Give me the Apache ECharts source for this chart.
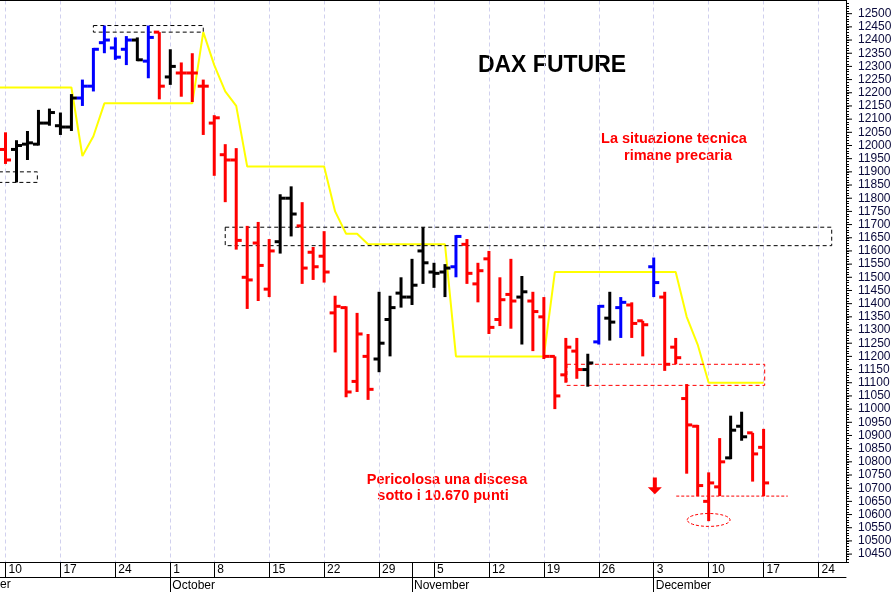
<!DOCTYPE html>
<html><head><meta charset="utf-8">
<script src="https://cdn.jsdelivr.net/npm/echarts@6/dist/echarts.min.js"></script>
<style>html,body{margin:0;padding:0;background:#fff}#chart{width:896px;height:592px}</style>
</head><body><div id="chart"></div>
<script>
// ---- data ----
const categories = [
 '2018-09-03','2018-09-04','2018-09-05','2018-09-06','2018-09-07','2018-09-10','2018-09-11','2018-09-12','2018-09-13','2018-09-14',
 '2018-09-17','2018-09-18','2018-09-19','2018-09-20','2018-09-21','2018-09-24','2018-09-25','2018-09-26','2018-09-27','2018-09-28',
 '2018-10-01','2018-10-02','2018-10-04','2018-10-05','2018-10-08','2018-10-09','2018-10-10','2018-10-11','2018-10-12','2018-10-15',
 '2018-10-16','2018-10-17','2018-10-18','2018-10-19','2018-10-22','2018-10-23','2018-10-24','2018-10-25','2018-10-26','2018-10-29',
 '2018-10-30','2018-10-31','2018-11-01','2018-11-02','2018-11-05','2018-11-06','2018-11-07','2018-11-08','2018-11-09','2018-11-12',
 '2018-11-13','2018-11-14','2018-11-15','2018-11-16','2018-11-19','2018-11-20','2018-11-21','2018-11-22','2018-11-23','2018-11-26',
 '2018-11-27','2018-11-28','2018-11-29','2018-11-30','2018-12-03','2018-12-04','2018-12-05','2018-12-06','2018-12-07','2018-12-10',
 '2018-12-11','2018-12-12','2018-12-13','2018-12-14','2018-12-17','2018-12-18','2018-12-19','2018-12-20','2018-12-21','2018-12-24',
 '2018-12-25','2018-12-26'
];
const firstShown = '2018-09-10';
const monthNames = ['January','February','March','April','May','June','July','August','September','October','November','December'];

const open = [null,null,null,null,null,
 11985,11985,12005,12005,12085,12075,12070,12180,12225,12390,
 12370,12365,12400,12320,12430,12260,12275,12275,12225,12085,
 11965,11945,11500,11630,11455,11635,11800,11695,11595,11580,
 11365,11385,11105,11200,11190,11340,11440,11425,11600,11520,
 11520,11540,11625,11475,11570,11340,11435,11425,11410,11350,
 11200,11130,11220,11150,11255,11345,11385,11395,11335,11540,
 11425,11235,11040,10935,10650,10705,10815,10935,10910,10855,
 null,null,null,null,null,null,null];
const high = [null,null,null,null,null,
 12050,12020,12055,12135,12140,12125,12195,12250,12370,12455,
 12410,12415,12410,12455,12430,12365,12315,12350,12250,12115,
 12005,11990,11695,11710,11645,11815,11845,11785,11615,11675,
 11430,11390,11365,11285,11445,11430,11500,11570,11690,11555,
 11550,11660,11645,11555,11600,11500,11570,11505,11445,11425,
 11200,11270,11270,11210,11395,11445,11425,11405,11335,11575,
 11445,11270,11095,10940,10760,10890,10975,10990,10910,10925,
 null,null,null,null,null,null,null];
const low = [null,null,null,null,null,
 11930,11860,11945,12000,12075,12040,12055,12150,12205,12350,
 12325,12305,12320,12255,12175,12230,12185,12165,12040,11885,
 11785,11605,11380,11410,11425,11590,11655,11475,11490,11480,
 11215,11045,11065,11035,11140,11200,11385,11395,11475,11460,
 11425,11500,11475,11405,11285,11315,11305,11245,11220,11190,
 11000,11100,11115,11085,11245,11260,11270,11270,11200,11425,
 11145,11170,10755,10670,10575,10670,10810,10880,10725,10670,
 null,null,null,null,null,null,null];
const close = [null,null,null,null,null,
 11945,12000,12010,12085,12125,12070,12180,12225,12365,12400,
 12335,12400,12325,12410,12225,12300,12275,12275,12225,12105,
 11945,11640,11490,11545,11600,11800,11740,11535,11540,11520,
 11390,11065,11285,11075,11250,11385,11425,11470,11555,11515,
 11535,11655,11515,11525,11310,11415,11410,11445,11370,11200,
 11050,11235,11150,11175,11390,11330,11405,11325,11320,11480,
 11170,11195,10940,10710,10720,10800,10920,10895,10830,10720,
 null,null,null,null,null,null,null];
// bar colour class: r = red, k = black, b = blue
const barClass = ['','','','','',
 'r','k','k','k','k','k','k','b','b','b',
 'b','b','k','b','r','k','r','r','r','r',
 'r','r','r','r','r','k','k','r','r','r',
 'r','r','r','r','k','k','k','k','k','k',
 'k','b','r','r','r','r','r','k','r','r',
 'r','r','r','k','b','k','b','r','r','b',
 'r','r','r','r','r','r','k','k','r','r',
 '','','','','','',''];
const trendLine = [12220,12220,12220,12220,12220,
 12220,12220,12220,12220,12220,12220,12220,11960,12035,12160,
 12160,12160,12160,12160,12160,12160,12160,12160,12430,12305,
 12205,12150,11920,11920,11920,11920,11920,11920,11920,11920,
 11750,11665,11665,11625,11625,11625,11625,11625,11625,11625,
 11625,11200,11200,11200,11200,11200,11200,11200,11200,11200,
 11520,11520,11520,11520,11520,11520,11520,11520,11520,11520,
 11520,11520,11350,11245,11100,11100,11100,11100,11100,11100,
 null,null,null,null,null,null,null];
const yTickLabels = [];
for (let v = 10450; v <= 12500; v += 50) yTickLabels.push(v);

// annotations in data units: [fromCategory, toCategory, lowValue, highValue, colour]
const boxes = [
 [4.4, 7.9, 11860, 11900, '#000000'],
 [13.0, 23.0, 12430, 12455, '#000000'],
 [25.0, 80.2, 11620, 11690, '#000000'],
 [56.1, 74.1, 11090, 11170, '#ff0000']
];
const supportLine = [66.05, 76.2, 10670];
const lowEllipse = [67.05, 70.95, 10555, 10604];
const downArrow = [64.1, 10677, 10741];

// ---- chart ----
const FONT = "'Liberation Sans', Arial, sans-serif";
const colorMap = {r:'#ff0000', k:'#000000', b:'#0000ff'};
const k0 = categories.indexOf(firstShown);
const kLast = categories.length - 1;
const isMonday = (d) => new Date(d + 'T00:00:00Z').getUTCDay() === 1;
const isMonthStart = (i) => i === 0 || categories[i].slice(5,7) !== categories[i-1].slice(5,7);

const ohlc = [];
categories.forEach((c, k) => { if (open[k] != null) ohlc.push([k, open[k], high[k], low[k], close[k]]); });

const chart = echarts.init(document.getElementById('chart'));
const xAt = (api, pos, v) => {  // fractional category position -> pixel
  const band = api.size([1, 0])[0];
  const p = api.coord([k0, v]);
  return [p[0] + (pos - k0) * band, p[1]];
};

chart.setOption({
 animation: false,
 backgroundColor: '#ffffff',
 grid: {left: 0, right: 50, top: 0.5, bottom: 30, show: false},
 xAxis: [{
   type: 'category', data: categories, boundaryGap: true, position: 'bottom', min: k0, max: kLast,
   axisLine: {show: true, lineStyle: {color: '#000', width: 1}},
   axisTick: {show: true, alignWithLabel: true, length: 15.5, lineStyle: {color:'#000'},
     interval: (i, v) => isMonday(v) || isMonthStart(i)},
   axisLabel: {interval: (i, v) => isMonday(v), formatter: (v) => String(parseInt(v.slice(8), 10)),
     align: 'left', padding: [0,0,0,3], margin: 2, color: '#000', fontSize: 12, fontFamily: FONT},
   splitLine: {show: true, alignWithLabel: true, interval: (i, v) => isMonday(v), lineStyle: {type:[4,3], color:'#d0d0ee', width:1}}
 }, {
   type: 'category', data: categories, boundaryGap: true, position: 'bottom', offset: 15.5, min: k0, max: kLast,
   axisLine: {show: true, lineStyle: {color: '#000', width: 1}},
   axisTick: {show: true, alignWithLabel: true, length: 16, lineStyle: {color:'#000'}, interval: (i) => isMonthStart(i)},
   axisLabel: {interval: (i) => isMonthStart(i), formatter: (v) => monthNames[parseInt(v.slice(5,7),10)-1],
     align: 'left', padding: [0,0,0,2], margin: 2, color: '#000', fontSize: 12, fontFamily: FONT},
   splitLine: {show: false}
 }, {
   type: 'category', data: categories, boundaryGap: true, position: 'top', min: k0, max: kLast,
   axisLine: {show: true, lineStyle: {color: '#000', width: 1}},
   axisTick: {show: false}, axisLabel: {show: false}, splitLine: {show: false}
 }],
 yAxis: {
   type: 'value', position: 'right', min: 10420, max: 12550, interval: 10,
   axisLine: {show: true, lineStyle: {color: '#000', width: 1}},
   axisTick: {show: true, length: 3, lineStyle: {color: '#000'}},
   axisLabel: {margin: 12, color: '#0a0a3c', fontSize: 12, fontFamily: FONT, showMaxLabel: false,
     formatter: (v) => { const r = Math.round(v); return (r % 50 === 0 && r < 12550) ? String(r) : ''; }},
   splitLine: {show: false}
 },
 series: [
  {type: 'line', data: trendLine, symbol: 'none', z: 2,
   lineStyle: {color: '#ffff00', width: 2}},
  {type: 'custom', z: 3, data: boxes.map((b) => [k0, b[2]]), silent: true,
   renderItem: (params, api) => {
     const b = boxes[params.dataIndex];
     const a = xAt(api, b[0], b[2]), c = xAt(api, b[1], b[3]);
     return {type: 'rect', shape: {x: a[0], y: c[1], width: c[0] - a[0], height: a[1] - c[1]},
       style: {fill: null, stroke: b[4], lineWidth: 1, lineDash: [4, 3]}};
   }},
  {type: 'custom', z: 4, data: ohlc, encode: {x: 0, y: [1,2,3,4]}, silent: true,
   renderItem: (params, api) => {
     const k = api.value(0);
     const col = colorMap[barClass[k]];
     const hi = api.coord([k, api.value(2)]), lo = api.coord([k, api.value(3)]);
     const op = api.coord([k, api.value(1)]), cl = api.coord([k, api.value(4)]);
     const st = {stroke: col, lineWidth: 3};
     return {type: 'group', children: [
       {type: 'line', shape: {x1: hi[0], y1: hi[1], x2: lo[0], y2: lo[1]}, style: st},
       {type: 'line', shape: {x1: op[0] - 5.5, y1: op[1], x2: op[0], y2: op[1]}, style: st},
       {type: 'line', shape: {x1: cl[0], y1: cl[1], x2: cl[0] + 5.5, y2: cl[1]}, style: st}
     ]};
   }},
  {type: 'custom', z: 5, data: [[k0, supportLine[2]]], silent: true,
   renderItem: (params, api) => {
     const s0 = xAt(api, supportLine[0], supportLine[2]), s1 = xAt(api, supportLine[1], supportLine[2]);
     const e0 = xAt(api, lowEllipse[0], lowEllipse[2]), e1 = xAt(api, lowEllipse[1], lowEllipse[3]);
     const tip = xAt(api, downArrow[0], downArrow[1]), tail = xAt(api, downArrow[0], downArrow[2]);
     const ax = tip[0];
     const headLen = 7, headW = 7, shaftW = 2;
     return {type: 'group', children: [
       {type: 'line', shape: {x1: s0[0], y1: s0[1], x2: s1[0], y2: s1[1]},
        style: {stroke: '#ff0000', lineWidth: 1, lineDash: [3, 2]}},
       {type: 'ellipse', shape: {cx: (e0[0] + e1[0]) / 2, cy: (e0[1] + e1[1]) / 2,
          rx: (e1[0] - e0[0]) / 2, ry: Math.abs(e0[1] - e1[1]) / 2},
        style: {fill: null, stroke: '#ff0000', lineWidth: 1, lineDash: [3, 2]}},
       {type: 'polygon', shape: {points: [
          [ax - shaftW, tail[1]], [ax + shaftW, tail[1]], [ax + shaftW, tip[1] - headLen], [ax + headW, tip[1] - headLen],
          [ax, tip[1]], [ax - headW, tip[1] - headLen], [ax - shaftW, tip[1] - headLen]]},
        style: {fill: '#ff0000'}}
     ]};
   }},
  {type: 'custom', z: 6, data: yTickLabels.map((v) => [k0, v]), silent: true, clip: false,
   renderItem: (params, api) => {
     const cs = params.coordSys;
     const y = api.coord([k0, api.value(1)])[1];
     const x = cs.x + cs.width;
     return {type: 'line', shape: {x1: x, y1: y, x2: x + 6, y2: y}, style: {stroke: '#000', lineWidth: 1}};
   }}
 ],
 graphic: [
  {type: 'text', x: 552, y: 66, style: {text: 'DAX FUTURE', textAlign: 'center', textVerticalAlign: 'middle',
    fill: '#000', font: "bold 23px " + FONT}},
  {type: 'text', x: 674, y: 139, style: {text: 'La situazione tecnica', textAlign: 'center', textVerticalAlign: 'middle',
    fill: '#ff0000', font: "bold 14.5px " + FONT}},
  {type: 'text', x: 678, y: 156, style: {text: 'rimane precaria', textAlign: 'center', textVerticalAlign: 'middle',
    fill: '#ff0000', font: "bold 14.5px " + FONT}},
  {type: 'text', x: 447, y: 480, style: {text: 'Pericolosa una discesa', textAlign: 'center', textVerticalAlign: 'middle',
    fill: '#ff0000', font: "bold 14.5px " + FONT}},
  {type: 'text', x: 443, y: 496, style: {text: 'sotto i 10.670 punti', textAlign: 'center', textVerticalAlign: 'middle',
    fill: '#ff0000', font: "bold 14.5px " + FONT}},
  {type: 'text', x: -48, y: 585, style: {text: 'September', textAlign: 'left', textVerticalAlign: 'middle',
    fill: '#000', font: "12px " + FONT}}
 ]
});
</script></body></html>
